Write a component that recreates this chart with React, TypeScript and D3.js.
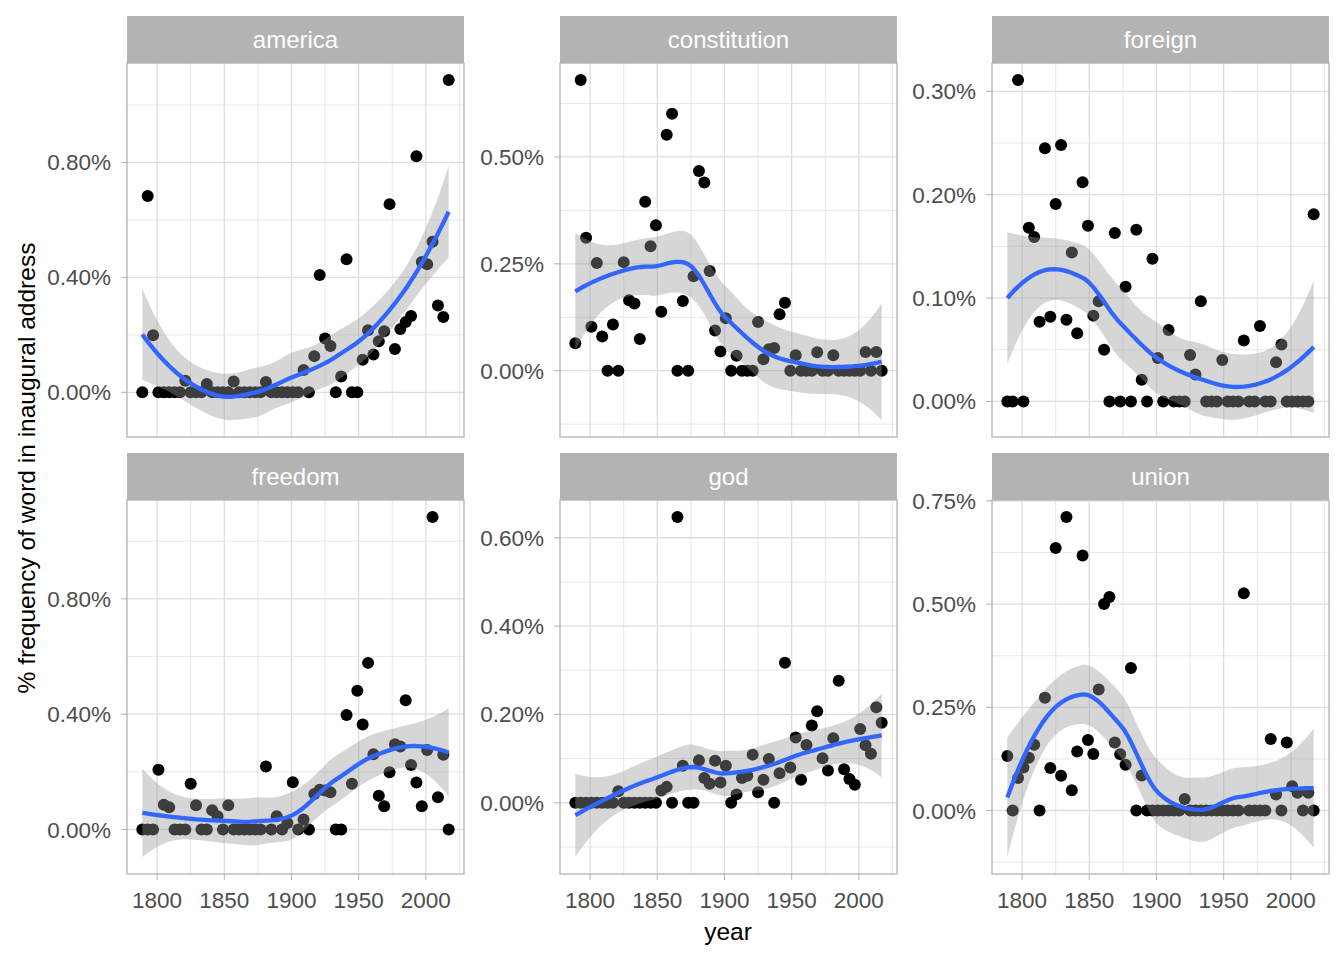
import React, { useMemo } from "react";
import * as d3 from "d3";

// ---------------- data (percent frequency of word in inaugural address) ----------------
const years = [
  1789, 1793, 1797, 1801, 1805, 1809, 1813, 1817, 1821, 1825,
  1829, 1833, 1837, 1841, 1845, 1849, 1853, 1857, 1861, 1865,
  1869, 1873, 1877, 1881, 1885, 1889, 1893, 1897, 1901, 1905,
  1909, 1913, 1917, 1921, 1925, 1929, 1933, 1937, 1941, 1945,
  1949, 1953, 1957, 1961, 1965, 1969, 1973, 1977, 1981, 1985,
  1989, 1993, 1997, 2001, 2005, 2009, 2013, 2017,
];

const words = ["america", "constitution", "foreign", "freedom", "god", "union"];

const america = [
  0, 0.683, 0.199, 0, 0, 0, 0, 0, 0.04, 0,
  0, 0, 0.029, 0, 0, 0, 0, 0.038, 0, 0,
  0, 0, 0, 0.036, 0, 0, 0, 0, 0, 0,
  0.078, 0, 0.126, 0.408, 0.187, 0.161, 0, 0.055, 0.463, 0,
  0, 0.113, 0.216, 0.132, 0.178, 0.213, 0.655, 0.151, 0.22, 0.245,
  0.266, 0.822, 0.454, 0.446, 0.524, 0.302, 0.262, 1.087,
];
const constitution = [
  0.064, 0.68, 0.311, 0.103, 0.252, 0.08, 0, 0.108, 0, 0.254,
  0.165, 0.157, 0.074, 0.395, 0.291, 0.34, 0.138, 0.552, 0.601, 0,
  0.163, 0, 0.221, 0.467, 0.44, 0.233, 0.094, 0.045, 0.123, 0,
  0.035, 0, 0, 0, 0.114, 0.027, 0.05, 0.053, 0.132, 0.159,
  0, 0.036, 0, 0, 0, 0.043, 0, 0, 0.036, 0,
  0, 0, 0, 0, 0.044, 0, 0.044, 0,
];
const foreign = [
  0, 0, 0.311, 0, 0.168, 0.159, 0.077, 0.245, 0.082, 0.191,
  0.248, 0.079, 0.144, 0.066, 0.212, 0.17, 0.083, 0.097, 0.05, 0,
  0.163, 0, 0.111, 0, 0.166, 0.021, 0, 0.138, 0.042, 0,
  0.069, 0, 0, 0, 0.045, 0.026, 0.097, 0, 0, 0,
  0.04, 0, 0, 0, 0.059, 0, 0, 0.073, 0, 0,
  0.038, 0.055, 0, 0, 0, 0, 0, 0.181,
];
const freedom = [
  0, 0, 0, 0.207, 0.086, 0.077, 0, 0, 0, 0.159,
  0.084, 0, 0, 0.067, 0.046, 0, 0.084, 0, 0, 0,
  0, 0, 0, 0.219, 0, 0.046, 0, 0.023, 0.164, 0,
  0.035, 0, 0.123, 0.138, 0.135, 0.129, 0, 0, 0.397, 0.159,
  0.481, 0.364, 0.578, 0.261, 0.117, 0.081, 0.199, 0.296, 0.288, 0.448,
  0.224, 0.163, 0.081, 0.276, 1.084, 0.112, 0.259, 0,
];
const god = [
  0, 0, 0, 0, 0, 0, 0, 0, 0.026, 0,
  0, 0, 0, 0, 0, 0, 0.028, 0.036, 0, 0.647,
  0.084, 0, 0, 0.096, 0.056, 0.043, 0.095, 0.046, 0.084, 0,
  0.019, 0.056, 0.061, 0.109, 0.024, 0.052, 0.099, 0, 0.067, 0.317,
  0.08, 0.148, 0.052, 0.131, 0.175, 0.207, 0.101, 0.073, 0.146, 0.276,
  0.076, 0.054, 0.041, 0.167, 0.13, 0.111, 0.216, 0.181,
];
const union = [
  0.132, 0, 0.079, 0.104, 0.128, 0.159, 0, 0.273, 0.103, 0.636,
  0.084, 0.711, 0.049, 0.143, 0.618, 0.171, 0.137, 0.293, 0.5, 0.517,
  0.165, 0.136, 0.111, 0.345, 0, 0.085, 0, 0, 0, 0,
  0, 0, 0, 0.028, 0, 0, 0, 0, 0, 0,
  0, 0, 0, 0, 0.526, 0, 0, 0, 0, 0.173,
  0.039, 0, 0.165, 0.059, 0.043, 0, 0.043, 0,
];
const series = [america, constitution, foreign, freedom, god, union];

// tick labels
const xTicks = [1800, 1850, 1900, 1950, 2000];
const americaTicks = [0, 0.4, 0.8];
const constitutionTicks = [0, 0.25, 0.5];
const foreignTicks = [0, 0.1, 0.2, 0.3];
const freedomTicks = [0, 0.4, 0.8];
const godTicks = [0, 0.2, 0.4, 0.6];
const unionTicks = [0, 0.25, 0.5, 0.75];
const yTicksAll = [americaTicks, constitutionTicks, foreignTicks, freedomTicks, godTicks, unionTicks];

// ---------------- loess (span .75, degree 2, kd-tree + cubic Hermite interpolation) ----------------
function inv3(m: number[][]) {
  const [a, b, c] = m[0];
  const [d, e, f] = m[1];
  const [g, h, k] = m[2];
  const A = e * k - f * h, B = -(d * k - f * g), C = d * h - e * g;
  const D = -(b * k - c * h), E = a * k - c * g, F = -(a * h - b * g);
  const G = b * f - c * e, HH = -(a * f - c * d), I = a * e - b * d;
  const det = a * A + b * B + c * C;
  return [
    [A / det, D / det, G / det],
    [B / det, E / det, HH / det],
    [C / det, F / det, I / det],
  ];
}

function qt975(df: number) {
  const z = 1.959963985;
  const z3 = z ** 3, z5 = z ** 5, z7 = z ** 7, z9 = z ** 9;
  return (
    z +
    (z3 + z) / (4 * df) +
    (5 * z5 + 16 * z3 + 3 * z) / (96 * df * df) +
    (3 * z7 + 19 * z5 + 17 * z3 - 15 * z) / (384 * df ** 3) +
    (79 * z9 + 776 * z7 + 1482 * z5 - 1920 * z3 - 945 * z) / (92160 * df ** 4)
  );
}

function loessSmooth(xs: number[], ys: number[], evalX: number[], span = 0.75) {
  const n = xs.length;
  const q = Math.floor(n * span);
  const local = (x0: number) => {
    const d = xs.map((x) => Math.abs(x - x0));
    const h = [...d].sort((a, b) => a - b)[q - 1];
    const w = d.map((di) => {
      const u = di / h;
      return u < 1 ? Math.pow(1 - u * u * u, 3) : 0;
    });
    const S = [0, 0, 0, 0, 0];
    for (let i = 0; i < n; i++) {
      const t = (xs[i] - x0) / 100;
      let p = w[i];
      for (let k = 0; k < 5; k++) {
        S[k] += p;
        p *= t;
      }
    }
    const iv = inv3([
      [S[0], S[1], S[2]],
      [S[1], S[2], S[3]],
      [S[2], S[3], S[4]],
    ]);
    const val: number[] = [];
    const slope: number[] = [];
    for (let i = 0; i < n; i++) {
      const t = (xs[i] - x0) / 100;
      val.push(w[i] * (iv[0][0] + iv[0][1] * t + iv[0][2] * t * t));
      slope.push((w[i] * (iv[1][0] + iv[1][1] * t + iv[1][2] * t * t)) / 100);
    }
    return { val, slope };
  };
  // kd-tree vertices
  const sorted = xs.slice().sort((a, b) => a - b);
  const fc = Math.floor(n * span * 0.2);
  const lo = sorted[0], hi = sorted[n - 1];
  const mu = 0.005 * (hi - lo);
  const verts: number[] = [lo - mu, hi + mu];
  const build = (l: number, u: number) => {
    if (u - l + 1 <= fc) return;
    const m = Math.floor((l + u) / 2);
    verts.push(sorted[m - 1]);
    build(l, m);
    build(m + 1, u);
  };
  build(1, n);
  verts.sort((a, b) => a - b);
  const vrows = verts.map(local);
  const rowAt = (x: number) => {
    let j = 0;
    while (j < verts.length - 2 && x > verts[j + 1]) j++;
    const v0 = verts[j], v1 = verts[j + 1];
    const D = v1 - v0;
    const hh = (x - v0) / D;
    const p0 = (1 - hh) * (1 - hh) * (1 + 2 * hh);
    const p1 = hh * hh * (3 - 2 * hh);
    const s0 = hh * (1 - hh) * (1 - hh) * D;
    const s1 = -hh * hh * (1 - hh) * D;
    const r0 = vrows[j], r1 = vrows[j + 1];
    const row: number[] = [];
    for (let i = 0; i < n; i++) {
      row.push(p0 * r0.val[i] + p1 * r1.val[i] + s0 * r0.slope[i] + s1 * r1.slope[i]);
    }
    return row;
  };
  const dot = (r: number[]) => r.reduce((s, v, i) => s + v * ys[i], 0);
  // operator at data points
  const L = xs.map(rowAt);
  const B = L.map((r, i) => r.map((v, j) => (i === j ? 1 : 0) - v));
  let rss = 0;
  for (let i = 0; i < n; i++) {
    const fit = dot(L[i]);
    rss += (ys[i] - fit) ** 2;
  }
  // C = B^T B
  const C: number[][] = [];
  for (let a = 0; a < n; a++) {
    C.push(new Array(n).fill(0));
  }
  for (let a = 0; a < n; a++) {
    for (let b = a; b < n; b++) {
      let s = 0;
      for (let k = 0; k < n; k++) s += B[k][a] * B[k][b];
      C[a][b] = s;
      C[b][a] = s;
    }
  }
  let delta1 = 0, delta2 = 0;
  for (let a = 0; a < n; a++) {
    delta1 += C[a][a];
    for (let b = 0; b < n; b++) delta2 += C[a][b] * C[a][b];
  }
  const sigma = Math.sqrt(rss / delta1);
  const tq = qt975((delta1 * delta1) / delta2);
  return evalX.map((x) => {
    const r = rowAt(x);
    const y = dot(r);
    const se = sigma * Math.sqrt(r.reduce((s, v) => s + v * v, 0));
    return { x, y, ymin: y - tq * se, ymax: y + tq * se };
  });
}

// ---------------- layout ----------------
const panelLefts = [127, 560, 992];
const panelTops = [63, 500];
const panelW = 337;
const panelH = 374;
const stripH = 47;
const FONT = "'Liberation Sans', Arial, Helvetica, sans-serif";

const fmtPct = (v: number) => d3.format(".2f")(v) + "%";

function minorOf(major: number[], dom: [number, number]) {
  const step = major[1] - major[0];
  const ext = [major[0] - step, ...major, major[major.length - 1] + step];
  const out: number[] = [];
  for (let i = 0; i < ext.length - 1; i++) {
    const m = (ext[i] + ext[i + 1]) / 2;
    if (m >= dom[0] && m <= dom[1]) out.push(m);
  }
  return out;
}

export default function App() {
  const evalX = useMemo(() => d3.range(80).map((i) => years[0] + (i * (years[years.length - 1] - years[0])) / 79), []);
  const panels = useMemo(
    () =>
      words.map((word, i) => {
        const ys = series[i];
        const sm = loessSmooth(years, ys, evalX);
        const lo = Math.min(d3.min(ys)!, d3.min(sm, (d) => d.ymin)!);
        const hi = Math.max(d3.max(ys)!, d3.max(sm, (d) => d.ymax)!);
        const pad = (hi - lo) * 0.05;
        return { word, ys, sm, ydom: [lo - pad, hi + pad] as [number, number], ticks: yTicksAll[i] };
      }),
    [evalX]
  );

  const xr = years[years.length - 1] - years[0];
  const xdom: [number, number] = [years[0] - 0.05 * xr, years[years.length - 1] + 0.05 * xr];
  const xMinor = minorOf(xTicks, xdom);

  return (
    <svg
      width={1344}
      height={960}
      style={{ position: "absolute", left: 0, top: 0, display: "block" }}
      fontFamily={FONT}
    >
      <rect x={0} y={0} width={1344} height={960} fill="#ffffff" />
      {panels.map((p, i) => {
        const col = i % 3;
        const row = Math.floor(i / 3);
        const L = panelLefts[col];
        const T = panelTops[row];
        const x = d3.scaleLinear().domain(xdom).range([L, L + panelW]);
        const y = d3.scaleLinear().domain(p.ydom).range([T + panelH, T]);
        const yMinor = minorOf(p.ticks, p.ydom);
        const area = d3
          .area<any>()
          .x((d) => x(d.x))
          .y0((d) => y(d.ymin))
          .y1((d) => y(d.ymax));
        const line = d3
          .line<any>()
          .x((d) => x(d.x))
          .y((d) => y(d.y));
        return (
          <g key={p.word}>
            <rect x={L} y={T - stripH} width={panelW} height={stripH} fill="#B3B3B3" />
            <text
              x={L + panelW / 2}
              y={T - stripH / 2 + 8.5}
              textAnchor="middle"
              fill="#ffffff"
              fontSize={24}
            >
              {p.word}
            </text>
            <rect x={L} y={T} width={panelW} height={panelH} fill="#ffffff" />
            {yMinor.map((v) => (
              <line key={"ym" + v} x1={L} x2={L + panelW} y1={y(v)} y2={y(v)} stroke="#DEDEDE" strokeWidth={0.7} />
            ))}
            {xMinor.map((v) => (
              <line key={"xm" + v} x1={x(v)} x2={x(v)} y1={T} y2={T + panelH} stroke="#DEDEDE" strokeWidth={0.7} />
            ))}
            {p.ticks.map((v) => (
              <line key={"yM" + v} x1={L} x2={L + panelW} y1={y(v)} y2={y(v)} stroke="#DEDEDE" strokeWidth={1.3} />
            ))}
            {xTicks.map((v) => (
              <line key={"xM" + v} x1={x(v)} x2={x(v)} y1={T} y2={T + panelH} stroke="#DEDEDE" strokeWidth={1.3} />
            ))}
            {p.ys.map((v, k) => (
              <circle key={"pt" + k} cx={x(years[k])} cy={y(v)} r={6} fill="#000000" />
            ))}
            <path d={area(p.sm) || ""} fill="#999999" fillOpacity={0.4} />
            <path d={line(p.sm) || ""} fill="none" stroke="#3366FF" strokeWidth={4.3} />
            <rect x={L} y={T} width={panelW} height={panelH} fill="none" stroke="#B3B3B3" strokeWidth={1.3} />
            {p.ticks.map((v) => (
              <g key={"yt" + v}>
                <line x1={L - 6} x2={L} y1={y(v)} y2={y(v)} stroke="#B3B3B3" strokeWidth={1} />
                <text x={L - 16} y={y(v) + 8} textAnchor="end" fill="#4D4D4D" fontSize={22.5}>
                  {fmtPct(v)}
                </text>
              </g>
            ))}
            {row === 1 &&
              xTicks.map((v) => (
                <g key={"xt" + v}>
                  <line x1={x(v)} x2={x(v)} y1={T + panelH} y2={T + panelH + 6} stroke="#B3B3B3" strokeWidth={1} />
                  <text x={x(v)} y={T + panelH + 34} textAnchor="middle" fill="#4D4D4D" fontSize={22.5}>
                    {v}
                  </text>
                </g>
              ))}
          </g>
        );
      })}
      <text x={728} y={940} textAnchor="middle" fill="#000000" fontSize={24.5}>
        year
      </text>
      <text transform="rotate(-90)" x={-468} y={35} textAnchor="middle" fill="#000000" fontSize={24.5}>
        % frequency of word in inaugural address
      </text>
    </svg>
  );
}
